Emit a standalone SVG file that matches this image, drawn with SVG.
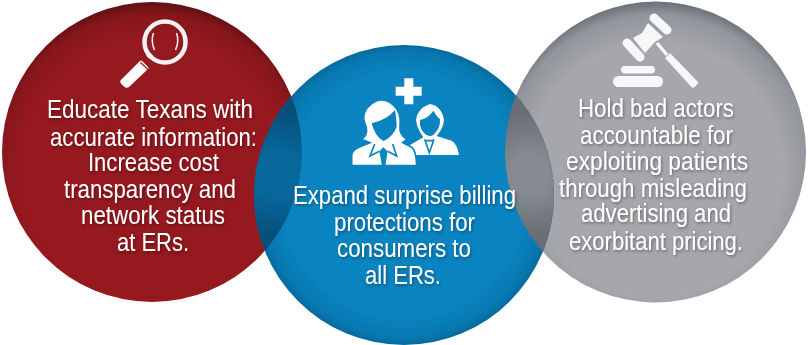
<svg xmlns="http://www.w3.org/2000/svg" width="808" height="345" viewBox="0 0 808 345">
<style>
.t{font-family:"Liberation Sans",Arial,sans-serif;font-size:26px;fill:#fff;filter:url(#ts)}
.w{fill:#fff}
.c{fill:#0a84c1}
.l{fill:none;stroke:#0a84c1;stroke-width:5}
.gv{fill:none;stroke:#f6f7f9;stroke-linecap:round}
</style>
<defs>
<filter id="ts" x="-10%" y="-30%" width="120%" height="170%"><feDropShadow dx="1" dy="1.5" stdDeviation="1.500" flood-color="#000" flood-opacity=".4"/></filter>
<radialGradient id="r" cx="50%" cy="56%" r="56%"><stop offset=".78" stop-color="#96191f"/><stop offset=".93" stop-color="#85161b"/><stop offset="1" stop-color="#5e1014"/></radialGradient>
<radialGradient id="b" cx="50%" cy="50%" r="50%"><stop offset=".8" stop-color="#0a84c1"/><stop offset=".95" stop-color="#0878b0"/><stop offset="1" stop-color="#066a9d"/></radialGradient>
<radialGradient id="g" cx="50%" cy="56%" r="56%"><stop offset=".75" stop-color="#a6a7ac"/><stop offset=".92" stop-color="#92959b"/><stop offset="1" stop-color="#6a7079"/></radialGradient>
<radialGradient id="o1" gradientUnits="userSpaceOnUse" cx="278" cy="174" r="62"><stop offset=".4" stop-color="#07669a"/><stop offset="1" stop-color="#064f7a"/></radialGradient>
<radialGradient id="o2" gradientUnits="userSpaceOnUse" cx="530" cy="174" r="62"><stop offset=".3" stop-color="#868a91"/><stop offset="1" stop-color="#696e76"/></radialGradient>
<clipPath id="cr"><circle cx="152" cy="152" r="150"/></clipPath>
<clipPath id="cg"><circle cx="655.500" cy="152" r="150.500"/></clipPath>
</defs>
<g id="node-red">
<circle cx="152" cy="152" r="150" fill="url(#r)"/>
<g id="icon-magnifier">
<circle cx="165" cy="42" r="20.500" fill="none" stroke="#f2f2f4" stroke-width="4.500"/>
<path d="M153.500 33q-3 8 1 17M176.500 33q3 8-1 17" fill="none" stroke="#f2f2f4" stroke-width="1.500"/>
<path class="w" stroke="#fff" stroke-width="3" stroke-linejoin="round" d="M122.500 80.500L141 62l6 6-18.500 17.500q-2 1.500-3.500 0l-2.500-2.500q-1.500-1.500 0-2.500z"/>
<path d="M140.500 62.500l8 7.500" fill="none" stroke="#96191f" stroke-width="1.200"/>
<path d="M148 54l3 3" fill="none" stroke="#fff" stroke-width="5"/>
</g>
<text class="t" x="47" y="118" textLength="206" lengthAdjust="spacingAndGlyphs">Educate Texans with</text>
<text class="t" x="50" y="146" textLength="207" lengthAdjust="spacingAndGlyphs">accurate information:</text>
<text class="t" x="88" y="171" textLength="131" lengthAdjust="spacingAndGlyphs">Increase cost</text>
<text class="t" x="64" y="198" textLength="172" lengthAdjust="spacingAndGlyphs">transparency and</text>
<text class="t" x="81" y="224" textLength="144" lengthAdjust="spacingAndGlyphs">network status</text>
<text class="t" x="117" y="251" textLength="72" lengthAdjust="spacingAndGlyphs">at ERs.</text>
</g>
<g id="node-grey">
<circle cx="655.500" cy="152" r="150.500" fill="url(#g)"/>
<g id="icon-gavel">
<path class="gv" stroke-width="9" d="M654 18l13 12"/>
<path class="gv" stroke-width="9" d="M627 43l13 14"/>
<path fill="#f6f7f9" d="M648 23l15 14-8 5-10 11-12-15 9-5z"/>
<path d="M657 43l10 12" fill="none" stroke="#f6f7f9" stroke-width="3.500"/>
<path fill="#f6f7f9" d="M665 58l5-5 27 28q2 2 1 2.500l-4 4q-1 1-3-1z"/>
<rect x="621" y="66" width="34" height="7.500" rx="3.700" fill="#f6f7f9"/>
<rect x="613" y="76" width="50" height="11" rx="5.500" fill="#f6f7f9"/>
</g>
<text class="t" x="578" y="117" textLength="156" lengthAdjust="spacingAndGlyphs">Hold bad actors</text>
<text class="t" x="580" y="144" textLength="153" lengthAdjust="spacingAndGlyphs">accountable for</text>
<text class="t" x="566" y="170" textLength="182" lengthAdjust="spacingAndGlyphs">exploiting patients</text>
<text class="t" x="559" y="197" textLength="188" lengthAdjust="spacingAndGlyphs">through misleading</text>
<text class="t" x="581" y="222" textLength="150" lengthAdjust="spacingAndGlyphs">advertising and</text>
<text class="t" x="569" y="250" textLength="174" lengthAdjust="spacingAndGlyphs">exorbitant pricing.</text>
</g>
<g id="node-blue">
<circle cx="404" cy="195" r="150" fill="url(#b)"/>
<circle cx="404" cy="195" r="150" fill="url(#o1)" clip-path="url(#cr)"/>
<circle cx="404" cy="195" r="150" fill="url(#o2)" clip-path="url(#cg)"/>
<g id="icon-people" transform="translate(340 70) scale(.3333)">
<path class="w" d="M167 50h26V25h27v25h25v27h-25v26h-27V77h-26z"/>
<path class="w" d="M205 228L250 202 240 186Q230 170 228 150 232 115 270 102 305 108 312 150 310 175 290 198L335 212Q352 222 357 255H228Z"/>
<path class="c" d="M240 150Q265 145 280 122 290 140 300 148 302 175 280 195 262 205 245 180Q238 165 240 150Z"/>
<path class="l" d="M254 208l14 40 14-40M258 212h20"/>
<path class="w" stroke="#0a84c1" stroke-width="5" d="M35 287V255Q38 238 60 230L90 218 65 208Q85 195 78 170 60 130 90 105 125 75 160 105 185 125 180 170 178 195 200 208L188 218 215 232Q228 240 230 287Z"/>
<path class="c" d="M95 160Q140 150 165 120 170 150 170 170 160 200 130 213 105 200 95 160Z"/>
<path class="l" d="M104 222L90 258 118 244M158 222L170 258 143 244"/>
<path class="c" d="M118 244L130 232 143 244 136 287H126Z"/>
</g>
<text class="t" x="293" y="204" textLength="223" lengthAdjust="spacingAndGlyphs">Expand surprise billing</text>
<text class="t" x="334" y="231" textLength="141" lengthAdjust="spacingAndGlyphs">protections for</text>
<text class="t" x="337" y="257" textLength="134" lengthAdjust="spacingAndGlyphs">consumers to</text>
<text class="t" x="365" y="284" textLength="76" lengthAdjust="spacingAndGlyphs">all ERs.</text>
</g>
<g id="connectors"/>
</svg>
